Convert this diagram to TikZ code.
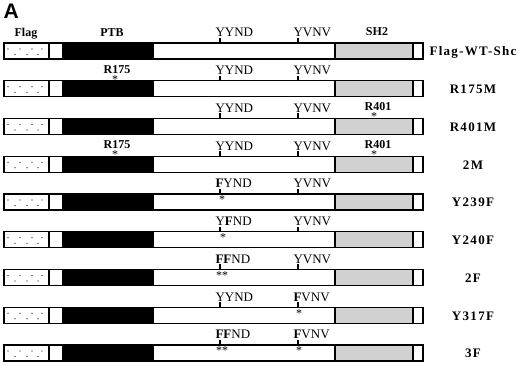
\documentclass[tikz,border=0pt]{standalone}
\usepackage{fontspec}
\setmainfont{Liberation Serif}
\newfontfamily\panelfont{Liberation Sans}
\definecolor{shcgrey}{gray}{0.82}
\tikzset{
  res/.style={anchor=base west, inner sep=0pt, font=\fontsize{13}{13}\selectfont},
  dom/.style={anchor=base, inner sep=0pt, font=\fontsize{12}{12}\selectfont\bfseries},
  mutlab/.style={anchor=base, inner sep=0pt, font=\fontsize{13}{13}\selectfont\bfseries\addfontfeature{LetterSpace=10}},
  star/.style={inner sep=0pt, font=\fontsize{12}{12}\selectfont}
}
\begin{document}
\begin{tikzpicture}[x=1pt, y=-1pt, line width=1.1pt]
\useasboundingbox (0,0) rectangle (520,366);
\node[anchor=north west, inner sep=0pt, font=\fontsize{21}{21}\panelfont\bfseries] (panel) at (3,4) {A};
\node[dom] (flag) at (26,37) {Flag};
\node[dom] (ptb) at (112,37) {PTB};
\node[dom] (sh2) at (377,36) {SH2};
\foreach \r/\lab/\sa/\sb in {0/Flag-WT-Shc/YYND/YVNV, 1/R175M/YYND/YVNV, 2/R401M/YYND/YVNV,
    3/2M/YYND/YVNV, 4/Y239F/\textbf{F}YND/YVNV, 5/Y240F/Y\textbf{F}ND/YVNV,
    6/2F/\textbf{FF}ND/YVNV, 7/Y317F/YYND/\textbf{F}VNV, 8/3F/\textbf{FF}ND/\textbf{F}VNV} {
  \pgfmathsetmacro\t{43+\r*37.75}
  \draw (4,\t) rectangle (49,\t+16);
  \foreach \dx in {8,20,32,42} \fill (\dx,\t+6) circle (0.55);
  \foreach \dx in {15,27,38} \fill (\dx,\t+11.5) circle (0.55);
  \draw (49,\t) rectangle (63,\t+16);
  \draw[fill=black] (63,\t) rectangle (153,\t+16);
  \draw (153,\t) rectangle (335,\t+16);
  \draw[fill=shcgrey] (335,\t) rectangle (413,\t+16);
  \draw (413,\t) rectangle (423,\t+16);
  \draw (220,\t) -- (220,\t-5);
  \draw (298,\t) -- (298,\t-5);
  \node[res] (sa\r) at (215,\t-6) {\sa};
  \node[res] (sb\r) at (293,\t-6) {\sb};
  \node[mutlab] (name\r) at (473,\t+13) {\lab};
}
\foreach \r in {1,3} {
  \pgfmathsetmacro\t{43+\r*37.75}
  \node[dom] (rA\r) at (117,\t-7.5) {R175};
  \node[star] (sA\r) at (115,\t-1.5) {*};
}
\foreach \r in {2,3} {
  \pgfmathsetmacro\t{43+\r*37.75}
  \node[dom] (rB\r) at (378,\t-7.5) {R401};
  \node[star] (sB\r) at (374,\t-1.5) {*};
}
\foreach \r/\x/\s in {4/222/*, 5/223/*, 6/222/**, 7/299/*, 8/222/**, 8/299/*} {
  \pgfmathsetmacro\t{43+\r*37.75}
  \node[star] at (\x,\t+6) {\s};
}
\end{tikzpicture}
\end{document}
